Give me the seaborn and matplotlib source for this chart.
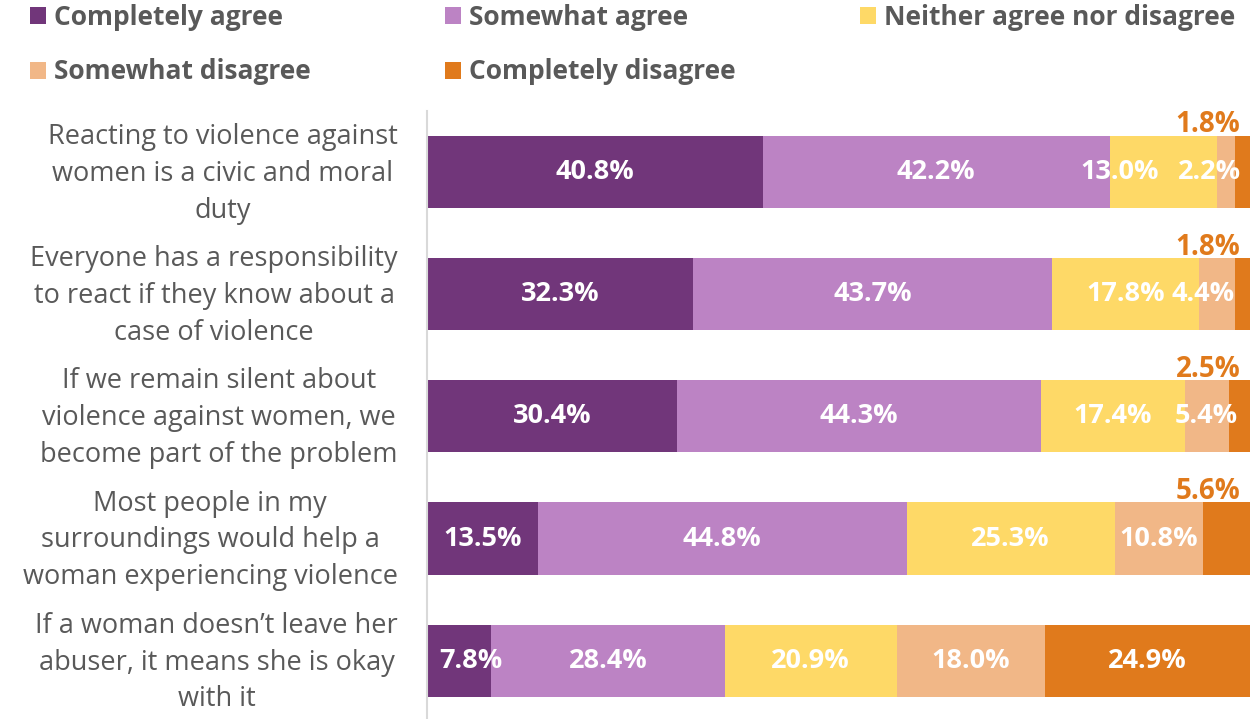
import matplotlib
matplotlib.use("Agg")
import matplotlib.pyplot as plt
import matplotlib.transforms as mtransforms
from matplotlib.patches import Patch
import numpy as np
import pandas as pd
import seaborn as sns

# Survey statements (wrapped as displayed)
statements = [
    "Reacting to violence against\nwomen is a civic and moral\nduty",
    "Everyone has a responsibility\nto react if they know about a\ncase of violence",
    "If we remain silent about\nviolence against women, we\nbecome part of the problem",
    "Most people in my\nsurroundings would help a\nwoman experiencing violence",
    "If a woman doesn\u2019t leave her\nabuser, it means she is okay\nwith it",
]

responses = [
    "Completely agree",
    "Somewhat agree",
    "Neither agree nor disagree",
    "Somewhat disagree",
    "Completely disagree",
]

completely_agree = [40.8, 32.3, 30.4, 13.5, 7.8]
somewhat_agree = [42.2, 43.7, 44.3, 44.8, 28.4]
neither = [13.0, 17.8, 17.4, 25.3, 20.9]
somewhat_disagree = [2.2, 4.4, 5.4, 10.8, 18.0]
completely_disagree = [1.8, 1.8, 2.5, 5.6, 24.9]

colors = ["#71367A", "#BC83C4", "#FED967", "#F1B787", "#E07A1C"]
text_gray = "#595959"

shares = np.array([completely_agree, somewhat_agree, neither,
                   somewhat_disagree, completely_disagree])
cumulative = shares.cumsum(axis=0)
left_edges = cumulative - shares

df = pd.DataFrame({"statement": statements})
for i, r in enumerate(responses):
    df[r] = cumulative[i]

sns.set_theme(style="white")
plt.rcParams["font.family"] = ["Open Sans", "DejaVu Sans"]

fig = plt.figure(figsize=(12.5, 7.19), dpi=100)
ax = fig.add_axes([0.3416, -0.004, 0.658, 0.85])

# Stacked bars: draw cumulative totals from the outermost segment inward
for i in reversed(range(len(responses))):
    sns.barplot(data=df, y="statement", x=responses[i], color=colors[i],
                orient="h", width=0.59, ax=ax, saturation=1, linewidth=0)

ax.set_xlim(0, 100)
ax.set_ylim(len(statements) - 0.5, -0.5)
ax.set_xlabel("")
ax.set_ylabel("")
ax.set_xticks([])
ax.tick_params(axis="y", length=0, pad=21, labelsize=19.5, labelcolor=text_gray)
lift = mtransforms.ScaledTranslation(0, 6 / 100, fig.dpi_scale_trans)
for tick in ax.yaxis.get_major_ticks():
    lab = tick.label1
    lab.set_multialignment("center")
    lab.set_linespacing(1.42)
    lab.set_transform(lab.get_transform() + lift)

for side in ["top", "right", "bottom"]:
    ax.spines[side].set_visible(False)
ax.spines["left"].set_color("#D9D9D9")
ax.spines["left"].set_linewidth(1.5)

# Pixel nudges for labels that would otherwise collide in narrow segments
nudge = {(0, 2): -43, (0, 3): -16, (1, 3): -14, (4, 0): 12}

for row in range(len(statements)):
    for k in range(len(responses)):
        val = shares[k, row]
        center = left_edges[k, row] + val / 2
        label = f"{val:.1f}%"
        if k == 4 and val < 10:
            # narrow end segment: label sits above the bar in its own colour
            ax.annotate(label, xy=(100, row - 0.295), xytext=(-6.5, 2.5),
                        textcoords="offset points", ha="right", va="baseline",
                        color=colors[4], fontsize=20, fontweight="bold")
            continue
        ax.annotate(label, xy=(center, row),
                    xytext=(nudge.get((row, k), 0) * 0.72, 0),
                    textcoords="offset points", ha="center", va="center",
                    color="white", fontsize=19.5, fontweight="bold")

# Legend entries placed on a fixed grid
legend_pos = [(0.024, 0.976), (0.356, 0.976), (0.688, 0.976),
              (0.024, 0.900), (0.356, 0.900)]
for i, r in enumerate(responses):
    h = Patch(facecolor=colors[i], edgecolor="none")
    leg = fig.legend(handles=[h], labels=[r], loc="center left",
                     bbox_to_anchor=legend_pos[i], frameon=False,
                     handlelength=0.62, handleheight=0.62, handletextpad=0.28,
                     borderaxespad=0, borderpad=0,
                     prop={"size": 19, "weight": "bold"})
    for t in leg.get_texts():
        t.set_color(text_gray)

fig.savefig("out.png", dpi=100)
